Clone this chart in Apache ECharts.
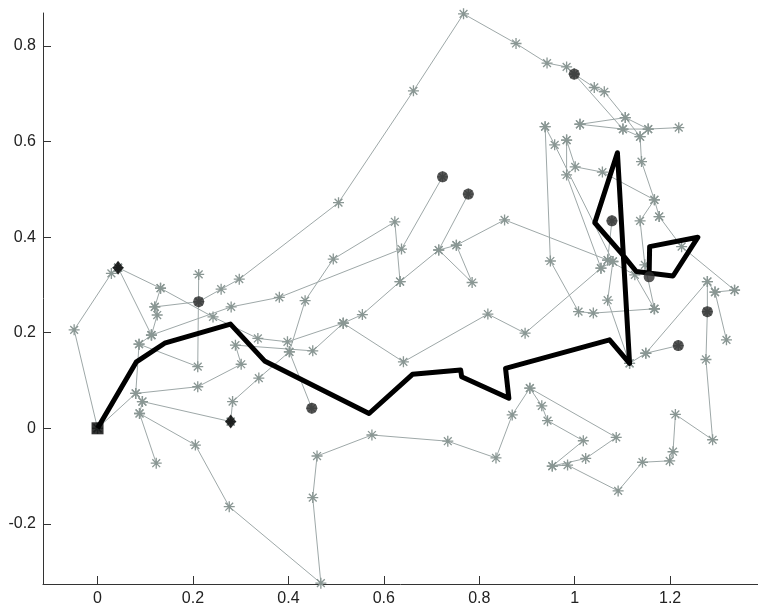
<!DOCTYPE html>
<html>
<head>
<meta charset="utf-8">
<script src="https://cdn.jsdelivr.net/npm/echarts@6/dist/echarts.min.js"></script>
<style>
html,body{margin:0;padding:0;background:#fff;}
#chart{width:758px;height:608px;}
</style>
</head>
<body>
<div id="chart"></div>
<script>
// ---- axis ticks ----
var xTicks = [0, 0.2, 0.4, 0.6, 0.8, 1, 1.2];
var yTicks = [-0.2, 0, 0.2, 0.4, 0.6, 0.8];

// ---- gray trajectories (x, y) ----
var A1 = [[0,0],[-0.049,0.206],[0.029,0.324],[0.043,0.336]];
var A2 = [[0.043,0.336],[0.132,0.293],[0.242,0.233],[0.336,0.188],[0.398,0.181],[0.515,0.220],[0.641,0.139],[0.818,0.239],[0.896,0.199],[1.055,0.335],[1.080,0.349]];
var A3 = [[0.043,0.336],[0.113,0.195],[0.087,0.176],[0.210,0.129],[0.212,0.322]];
var A4 = [[0.113,0.195],[0.125,0.237],[0.120,0.254],[0.132,0.293]];
var A5 = [[0.120,0.254],[0.212,0.265]];
var B4 = [[0.113,0.195],[0.280,0.254],[0.381,0.274],[0.637,0.375],[0.723,0.526]];
var P1 = [[0.212,0.265],[0.259,0.291],[0.297,0.312],[0.505,0.472],[0.662,0.706],[0.767,0.867],[0.877,0.805],[0.942,0.764],[0.983,0.756],[0.999,0.741]];
var C3 = [[0.087,0.176],[0.080,0.073],[0.094,0.056],[0.088,0.031],[0.123,-0.073]];
var C4 = [[0.088,0.031],[0.205,-0.035],[0.276,-0.164],[0.468,-0.324],[0.451,-0.145],[0.460,-0.058],[0.575,-0.014],[0.734,-0.027],[0.835,-0.062],[0.869,0.028],[0.906,0.084],[1.087,-0.019],[1.023,-0.063],[0.953,-0.079],[0.985,-0.077],[1.091,-0.131],[1.142,-0.071],[1.199,-0.068],[1.206,-0.049],[1.211,0.029],[1.289,-0.024],[1.275,0.144],[1.278,0.244]];
var C5 = [[0.094,0.056],[0.279,0.014]];
var C6 = [[0.279,0.014],[0.283,0.056],[0.338,0.105],[0.402,0.160],[0.449,0.042]];
var C7 = [[0,0],[0.080,0.073],[0.210,0.087],[0.301,0.134],[0.289,0.174],[0.451,0.162],[0.515,0.220]];
var B3 = [[0.634,0.307],[0.623,0.432],[0.494,0.354],[0.435,0.267],[0.402,0.160]];
var B1 = [[0.515,0.220],[0.555,0.238],[0.634,0.307],[0.715,0.373],[0.752,0.383],[0.853,0.436],[1.069,0.352],[1.126,0.321],[1.167,0.250]];
var B2 = [[0.777,0.490],[0.715,0.373],[0.785,0.305],[0.752,0.383]];
var D1 = [[0.906,0.084],[0.931,0.047],[0.943,0.016],[1.018,-0.026],[0.953,-0.079]];
var R1 = [[0.999,0.741],[1.041,0.713],[1.062,0.704],[1.106,0.650],[1.137,0.610],[1.140,0.558],[1.167,0.478],[1.177,0.443]];
var R2 = [[0.999,0.741],[1.101,0.626],[1.137,0.610]];
var R3 = [[1.011,0.636],[1.101,0.626],[1.154,0.626],[1.218,0.629]];
var R4 = [[1.011,0.636],[1.106,0.650],[1.154,0.626]];
var R5 = [[0.938,0.631],[0.949,0.350],[1.008,0.244],[1.039,0.241],[1.167,0.250]];
var R6 = [[0.938,0.631],[0.958,0.593],[1.080,0.349],[1.069,0.268],[1.115,0.136]];
var R7 = [[0.983,0.603],[0.983,0.530],[1.055,0.335]];
var R8 = [[0.983,0.603],[1.001,0.547],[1.058,0.536],[1.167,0.478],[1.137,0.434],[1.147,0.342],[1.167,0.250]];
var R9 = [[1.078,0.434],[1.069,0.352]];
var R11 = [[1.115,0.136],[1.149,0.157],[1.217,0.173]];
var R12 = [[1.149,0.157],[1.278,0.307],[1.294,0.285],[1.335,0.289]];
var R13 = [[1.294,0.285],[1.318,0.185]];
var R14 = [[1.278,0.307],[1.278,0.244]];
var R15 = [[1.177,0.443],[1.224,0.380],[1.335,0.289]];

var grayPaths = [A1,A2,A3,A4,A5,B4,P1,C3,C4,C5,C6,C7,B3,B1,B2,D1,R1,R2,R3,R4,R5,R6,R7,R8,R9,R11,R12,R13,R14,R15];

// ---- bold black trajectory ----
var blackPath = [[0,0],[0.0815,0.139],[0.1406,0.178],[0.2786,0.218],[0.35,0.141],[0.569,0.031],[0.66,0.113],[0.761,0.122],[0.763,0.108],[0.862,0.063],[0.855,0.1255],[1.073,0.185],[1.115,0.136],[1.0895,0.5766],[1.042,0.430],[1.098,0.366],[1.129,0.328],[1.206,0.3186],[1.258,0.3996],[1.157,0.380],[1.156,0.323]];

// ---- end markers ----
var circlePts = [[0.999,0.741],[0.723,0.526],[0.777,0.490],[0.212,0.265],[0.449,0.042],[1.278,0.244],[1.217,0.173],[1.078,0.434],[1.156,0.317]];
var diamondPts = [[0.043,0.336],[0.279,0.014]];
var squarePts = [[0,0]];

var star = 'path://M8.8,0 L11.2,0 L11.2,20 L8.8,20 Z M0,8.8 L20,8.8 L20,11.2 L0,11.2 Z M2.05,3.75 L3.75,2.05 L17.95,16.25 L16.25,17.95 Z M16.25,2.05 L17.95,3.75 L3.75,17.95 L2.05,16.25 Z';

var series = [];
grayPaths.forEach(function (p) {
  series.push({
    type: 'line', data: p, symbol: star, symbolSize: 11, showSymbol: true, showAllSymbol: true,
    lineStyle: {color: '#9ea8a8', width: 1},
    itemStyle: {color: '#8a9794', borderWidth: 0},
    z: 2, silent: true
  });
});
series.push({
  type: 'line', data: blackPath, symbol: 'none',
  lineStyle: {color: '#000', width: 5, join: 'round'}, z: 5, silent: true
});
series.push({type: 'scatter', data: circlePts, symbol: 'circle', symbolSize: 11, itemStyle: {color: '#2e2e2e'}, z: 6});
series.push({type: 'scatter', data: diamondPts, symbol: 'diamond', symbolSize: [11, 14], itemStyle: {color: '#000'}, z: 6});
series.push({type: 'scatter', data: squarePts, symbol: 'rect', symbolSize: 12, itemStyle: {color: '#000'}, z: 6});

var chart = echarts.init(document.getElementById('chart'), null, {renderer: 'canvas'});
var labelStyle = {color: '#222', fontSize: 16, fontFamily: 'Liberation Sans, Arial, sans-serif'};
chart.setOption({
  animation: false,
  backgroundColor: '#fff',
  grid: {left: 43, top: 13, width: 717, height: 571, containLabel: false},
  xAxis: {
    type: 'value', min: -0.1143, max: 1.3841,
    axisLine: {show: true, onZero: false, lineStyle: {color: '#333', width: 1}},
    axisTick: {show: true, inside: true, length: 8, customValues: xTicks, lineStyle: {color: '#333'}},
    axisLabel: Object.assign({customValues: xTicks, margin: 7}, labelStyle),
    splitLine: {show: false}
  },
  yAxis: {
    type: 'value', min: -0.3257, max: 0.8688,
    axisLine: {show: true, onZero: false, lineStyle: {color: '#333', width: 1}},
    axisTick: {show: true, inside: true, length: 8, customValues: yTicks, lineStyle: {color: '#333'}},
    axisLabel: Object.assign({customValues: yTicks, margin: 7}, labelStyle),
    splitLine: {show: false}
  },
  series: series
});
</script>
</body>
</html>
